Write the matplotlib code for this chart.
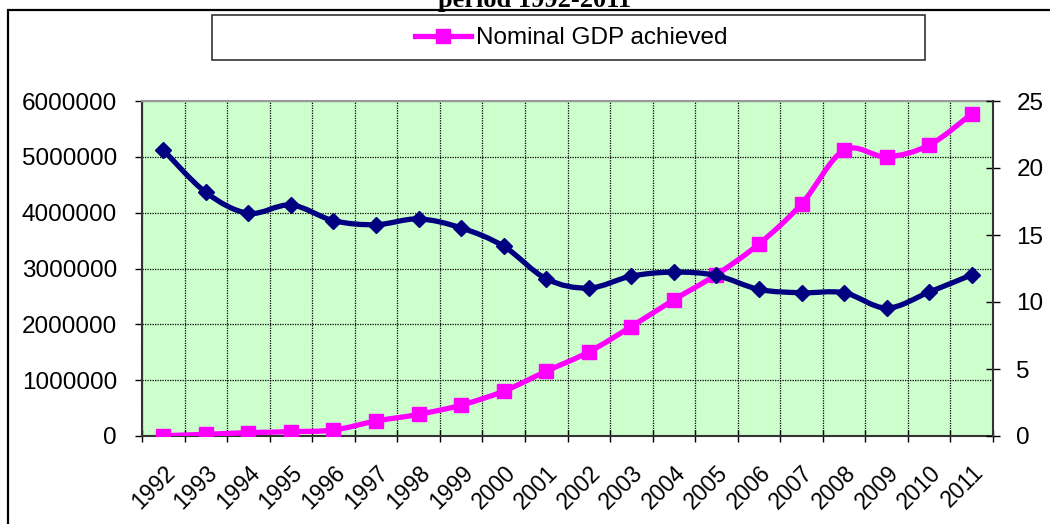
import numpy as np
import matplotlib.pyplot as plt
from matplotlib.path import Path
from matplotlib.patches import PathPatch, Rectangle
from matplotlib.lines import Line2D

# data
years = ['1992', '1993', '1994', '1995', '1996', '1997', '1998', '1999', '2000', '2001',
         '2002', '2003', '2004', '2005', '2006', '2007', '2008', '2009', '2010', '2011']
nominal_gdp = [5000, 30000, 60000, 77000, 107000, 268000, 387000, 553000, 803000, 1160000,
               1505000, 1960000, 2440000, 2890000, 3440000, 4155000, 5120000, 5000000, 5210000, 5770000]
rate = [21.35, 18.18, 16.62, 17.24, 16.07, 15.77, 16.2, 15.53, 14.16, 11.73,
        11.04, 11.93, 12.23, 11.98, 10.94, 10.69, 10.69, 9.55, 10.74, 12.03]
left_ticks = [0, 1000000, 2000000, 3000000, 4000000, 5000000, 6000000]
right_ticks = [0, 5, 10, 15, 20, 25]
title = 'period 1992-2011'
legend_label = 'Nominal GDP achieved'

W, H = 1050, 524
navy = '#000080'
pink = '#FF00FF'
plt.rcParams['font.family'] = ['Liberation Sans', 'DejaVu Sans']


def smooth_path(xs, ys):
    # excel-like smoothed line (catmull-rom as cubic bezier segments)
    pts = np.column_stack([xs, ys]).astype(float)
    n = len(pts)
    verts = [pts[0]]
    codes = [Path.MOVETO]
    for i in range(n - 1):
        p0 = pts[i - 1] if i > 0 else pts[i]
        p1 = pts[i]
        p2 = pts[i + 1]
        p3 = pts[i + 2] if i + 2 < n else pts[i + 1]
        verts += [p1 + (p2 - p0) / 6, p2 - (p3 - p1) / 6, p2]
        codes += [Path.CURVE4] * 3
    return Path(verts, codes)


fig = plt.figure(figsize=(W / 100, H / 100), dpi=100)

# outer chart border
fig.patches.append(Rectangle((8 / W, -0.1), 1.2, (H - 10) / H + 0.1, transform=fig.transFigure,
                             fill=False, edgecolor='black', linewidth=1.6))
fig.text(535 / W, (H - 7) / H, title, ha='center', va='baseline',
         fontsize=19, fontweight='bold', family='Liberation Serif')

ax = fig.add_axes([142 / W, (H - 436) / H, (993 - 142) / W, (436 - 101) / H])
ax.set_facecolor('#CCFFCC')
x = np.arange(len(years))

ax.set_xlim(-0.5, len(years) - 0.5)
ax.set_ylim(left_ticks[0], left_ticks[-1])
ax.set_yticks(left_ticks)
ax.set_yticklabels([str(v) for v in left_ticks], fontsize=17.5)
ax.set_xticks(np.arange(len(years) + 1) - 0.5)
ax.set_xticklabels([])
ax.set_xticks(x, minor=True)
ax.set_xticklabels(years, minor=True, rotation=45, ha='right', rotation_mode='anchor', fontsize=16.5)
ax.tick_params(axis='x', which='minor', length=0, pad=18)
ax.tick_params(axis='x', which='major', direction='inout', length=8, width=1)
ax.tick_params(axis='y', direction='out', length=5, width=1, pad=13)
ax.grid(True, which='major', color='black', linestyle=(0, (1, 1)), linewidth=0.9)
ax.set_axisbelow(True)
for side in ['left', 'bottom']:
    ax.spines[side].set_color('#333333')
    ax.spines[side].set_linewidth(1.5)
ax.spines['top'].set_color('#999999')
ax.spines['top'].set_linewidth(1.5)
ax.spines['right'].set_visible(False)

ax.add_patch(PathPatch(smooth_path(x, nominal_gdp), fill=False, edgecolor=pink, linewidth=3.8,
                       capstyle='round', joinstyle='round', zorder=3))
ax.plot(x, nominal_gdp, linestyle='none', marker='s', markersize=10.5, color=pink, zorder=4)

ax2 = ax.twinx()
ax2.set_ylim(right_ticks[0], right_ticks[-1])
ax2.set_yticks(right_ticks)
ax2.set_yticklabels([str(v) for v in right_ticks], fontsize=17.5)
ax2.tick_params(axis='y', direction='inout', length=9.5, width=1, pad=12)
ax2.spines['right'].set_color('#333333')
ax2.spines['right'].set_linewidth(1.5)
for side in ['left', 'top', 'bottom']:
    ax2.spines[side].set_visible(False)
ax2.add_patch(PathPatch(smooth_path(x, rate), fill=False, edgecolor=navy, linewidth=3.8,
                        capstyle='round', joinstyle='round', zorder=3))
ax2.plot(x, rate, linestyle='none', marker='D', markersize=8.5, color=navy, zorder=4)

# legend box
fig.patches.append(Rectangle((212 / W, (H - 60) / H), (925 - 212) / W, 45 / H,
                             transform=fig.transFigure, facecolor='white',
                             edgecolor='#333333', linewidth=1.2))
handle = Line2D([], [], color=pink, linewidth=3.8, marker='s', markersize=10.5)
fig.legend([handle], [legend_label], loc='center', bbox_to_anchor=(571 / W, (H - 38) / H),
           frameon=False, fontsize=17.5, handlelength=2.3, handletextpad=0.2)

fig.savefig('out.png', dpi=100)
